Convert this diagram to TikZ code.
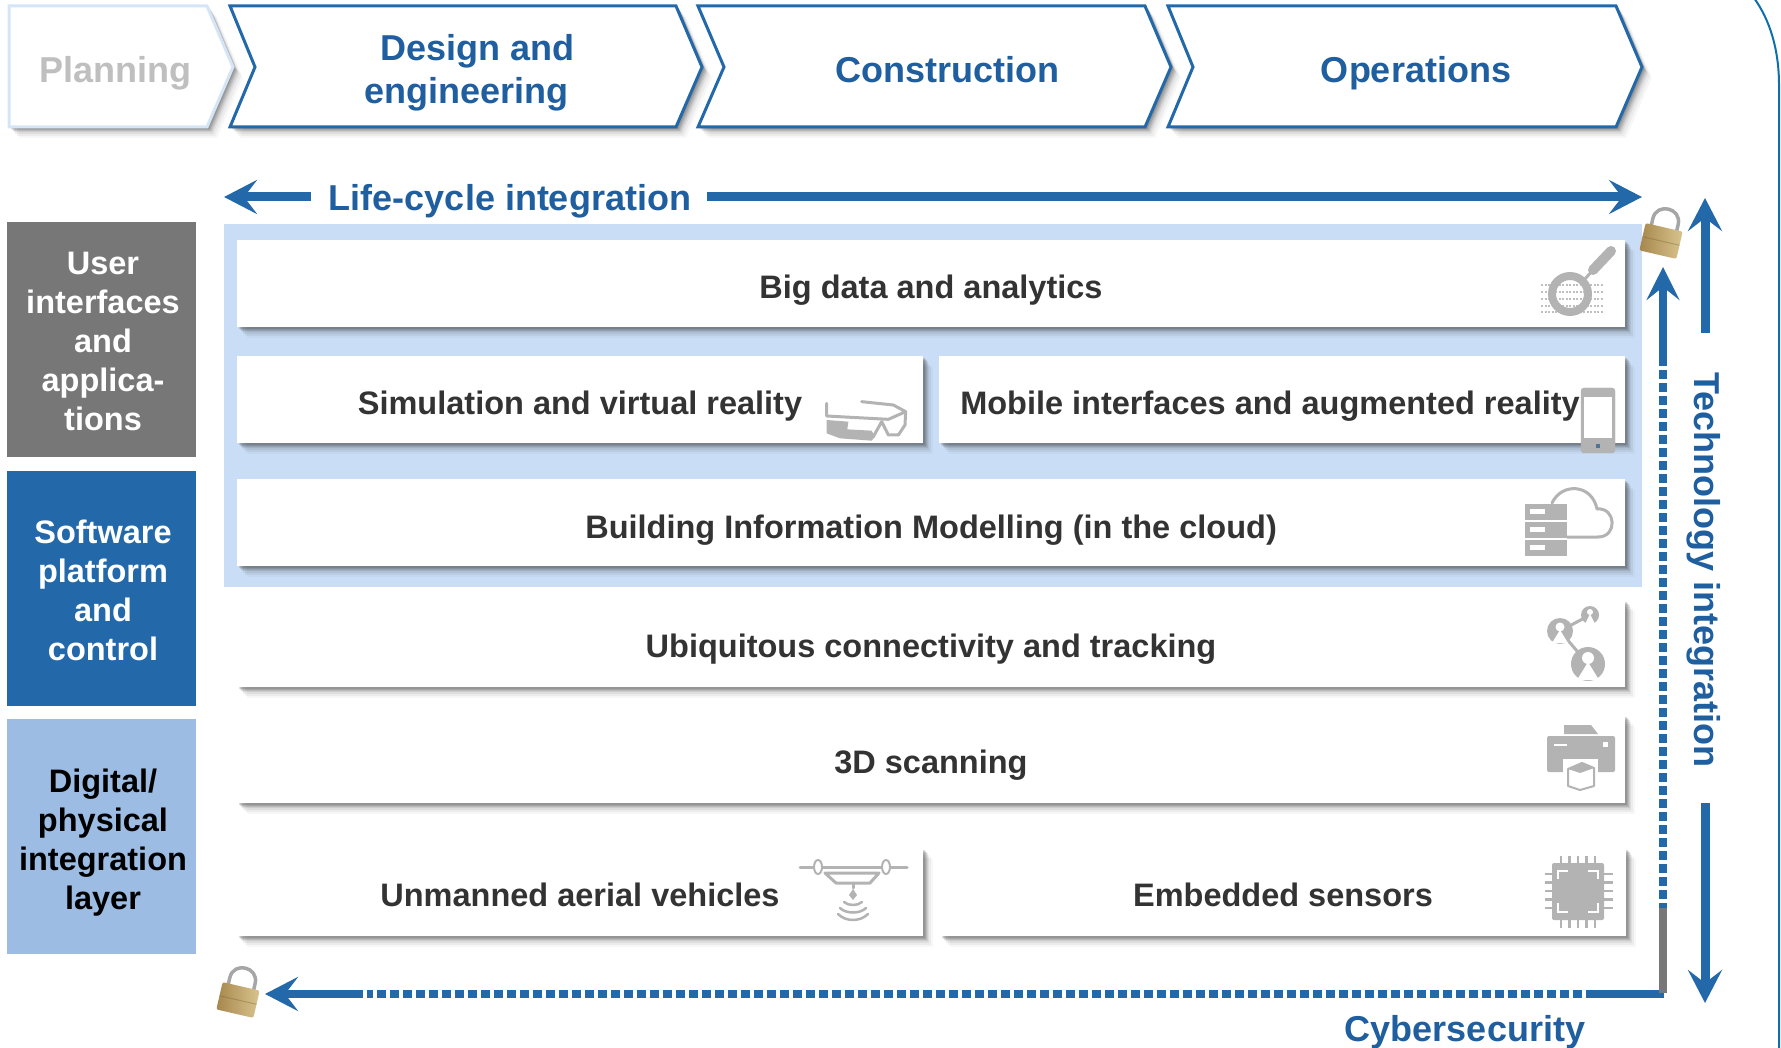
\documentclass[tikz,border=0pt]{standalone}
\usepackage{fontspec}
\setmainfont{Liberation Sans}
\usetikzlibrary{arrows.meta,shadows}

\definecolor{stageblue}{HTML}{1F5E9F}
\definecolor{arrowblue}{HTML}{2369A9}
\definecolor{panelblue}{HTML}{C9DEF6}
\definecolor{layergrey}{HTML}{777777}
\definecolor{layerlight}{HTML}{9DBCE3}
\definecolor{icongrey}{HTML}{B3B3B3}
\definecolor{railblue}{HTML}{0F6FA9}
\definecolor{lockdark}{HTML}{A6874C}
\definecolor{locklight}{HTML}{D9C48E}

\tikzstyle{softshadow}=[
  drop shadow={shadow xshift=2pt,shadow yshift=-2pt,fill=black!80,opacity=.16},
  drop shadow={shadow xshift=3pt,shadow yshift=-3pt,fill=black!80,opacity=.14},
  drop shadow={shadow xshift=4pt,shadow yshift=-4pt,fill=black!80,opacity=.12},
  drop shadow={shadow xshift=5pt,shadow yshift=-5pt,fill=black!80,opacity=.10},
  drop shadow={shadow xshift=6pt,shadow yshift=-7pt,fill=black!80,opacity=.08},
  drop shadow={shadow xshift=8pt,shadow yshift=-9pt,fill=black!80,opacity=.06},
  drop shadow={shadow xshift=10pt,shadow yshift=-11pt,fill=black!80,opacity=.04}]
\tikzstyle{stage}=[draw=arrowblue,line width=3pt,fill=white,line join=miter,softshadow]
\tikzstyle{stagetext}=[text=stageblue,align=center,font=\bfseries\fontsize{36}{43}\selectfont]
\tikzstyle{layer}=[inner sep=0pt,align=center,font=\bfseries\fontsize{32.5}{39}\selectfont]
\tikzstyle{rowbar}=[fill=white,inner sep=0pt,text=black!80,softshadow,text height=35.6pt,text depth=7pt,
  font=\bfseries\fontsize{32.5}{39}\selectfont]
\tikzstyle{bigarrow}=[draw=arrowblue,line width=9pt,
  -{Stealth[length=33pt,width=34pt,inset=13pt]}]
\tikzstyle{dotline}=[draw=arrowblue,line width=8pt,dash pattern=on 9pt off 4pt]
\tikzstyle{icon}=[draw=icongrey,line cap=round,line join=round]

\newcommand{\padlock}[2]{
\begin{scope}[shift={(#1,#2)},rotate=-13]
\draw [line width=3.5pt,black!35] (-13,-8) -- (-13,-20) .. controls (-13,-37) and (13,-37) .. (13,-20) -- (13,-8);
\shade [left color=lockdark,right color=locklight,rounded corners=2pt]
(-19,-14) rectangle (19,14);
\draw [lockdark!70!black,opacity=.35,line width=1pt] (-19,0) -- (19,0);
\end{scope}
}

\begin{document}
\begin{tikzpicture}[x=1pt,y=-1pt]

\useasboundingbox (0,0) rectangle (1781,1048);

%%% Right Rail

\draw [railblue,line width=2pt] (1754,-2) .. controls (1770,20) and (1779,50) .. (1779,85) -- (1779,1050);

%%% Stages

\draw [stage,draw=panelblue!80!white] (9,6) -- (207,6) -- (233,67) -- (207,127) -- (9,127) -- cycle;
\draw [stage] (230,6) -- (676,6) -- (702,67) -- (676,127) -- (230,127) -- (255,67) -- cycle;
\draw [stage] (698,6) -- (1145,6) -- (1171,67) -- (1145,127) -- (698,127) -- (724,67) -- cycle;
\draw [stage] (1168,6) -- (1616,6) -- (1642,67) -- (1616,127) -- (1168,127) -- (1193,67) -- cycle;

\node [stagetext,text=black!25] (planning) at (115,73.4) {Planning};
\node [stagetext] (design) at (466.5,72.5) {\hspace*{22pt}Design and\\engineering};
\node [stagetext] (construction) at (947,70) {Construction};
\node [stagetext] (operations) at (1416,73.4) {Operations};

%%% Life-cycle Arrow

\node [stagetext] (lifecycle) at (510,201.4) {Life-cycle integration};

\coordinate (lifeleftend) at (311,197);
\coordinate (lifelefttip) at (224,197);
\coordinate (liferightend) at (707,197);
\coordinate (liferighttip) at (1642,197);

\draw [bigarrow] (lifeleftend) -- (lifelefttip);
\draw [bigarrow] (liferightend) -- (liferighttip);

% Panel

\fill [panelblue] (224,224) rectangle (1642,587);

%%% Layers

\fill [layergrey] (7,222) rectangle (196,457);
\fill [arrowblue] (7,471) rectangle (196,706);
\fill [layerlight] (7,719) rectangle (196,954);

\node [layer,text=white] (userlayer) at (103,341.8)
{User\\interfaces\\and\\applica-\\tions};
\node [layer,text=white] (softwarelayer) at (103,590.8)
{Software\\platform\\and\\control};
\node [layer,text=black] (digitallayer) at (103,842.2)
{Digital/\\physical\\integration\\layer};

%%% Rows

\node [rowbar,text height=38pt,minimum width=1388pt,minimum height=87pt] (bigdata) at (931,283.5) {Big data and analytics};
\node [rowbar,text height=38pt,minimum width=686pt,minimum height=87pt] (simulation) at (580,399.5) {Simulation and virtual reality};
\node [rowbar,text height=38pt,minimum width=686pt,minimum height=87pt] (mobile) at (1282,399.5) {Mobile interfaces and augmented reality\hspace{24pt}\mbox{}};
\node [rowbar,text height=38pt,minimum width=1388pt,minimum height=87pt] (bim) at (931,522.5) {Building Information Modelling (in the cloud)};
\node [rowbar,minimum width=1388pt,minimum height=87pt] (ubiquitous) at (931,643.5) {Ubiquitous connectivity and tracking};
\node [rowbar,minimum width=1388pt,minimum height=88pt] (scanning) at (931,759) {3D scanning};
\node [rowbar,minimum width=686pt,minimum height=88pt] (uav) at (580,892) {Unmanned aerial vehicles};
\node [rowbar,minimum width=686pt,minimum height=88pt] (sensors) at (1283,892) {Embedded sensors};

%%% Icons

% Magnifier

\draw [lightgray,line width=2.5pt,dash pattern=on 2pt off 1.5pt] (1541,285) -- (1604,285);
\draw [lightgray,line width=2.5pt,dash pattern=on 2pt off 1.5pt] (1541,292) -- (1604,292);
\draw [lightgray,line width=2.5pt,dash pattern=on 2pt off 1.5pt] (1541,299) -- (1604,299);
\draw [lightgray,line width=2.5pt,dash pattern=on 2pt off 1.5pt] (1541,306) -- (1604,306);
\draw [lightgray,line width=2.5pt,dash pattern=on 2pt off 1.5pt] (1541,312) -- (1604,312);
\draw [icon,line width=8pt] (1570,294) circle (18);
\draw [icon,line width=10pt] (1593,270) -- (1611,251);
\draw [icon,line width=3pt] (1585,279) -- (1593,270);

% Glasses

\begin{scope}[shift={(760,340)},scale=1/3]
\draw [icon,line width=3pt] (305,185) -- (400,195) -- (437,215) -- (385,238) -- (200,228) -- (200,190);
\draw [icon,line width=3pt] (437,215) -- (435,255) -- (415,285);
\draw [icon,line width=3pt] (340,290) -- (365,245) -- (385,285) -- (415,285);
\fill [icongrey] (200,240) -- (265,245) -- (262,268) -- (335,272) -- (345,290) -- (335,302) -- (240,295) -- (200,280) -- cycle;
\end{scope}

% Phone

\filldraw [draw=icongrey,fill=icongrey,rounded corners=3pt] (1581,388) rectangle (1615,453);
\fill [white] (1584,397) rectangle (1612,438);
\fill [arrowblue!50!gray] (1596,444) rectangle (1600,448);

% Cloud

\fill [icongrey] (1525,504) rectangle (1567,520);
\fill [icongrey] (1525,522) rectangle (1567,538);
\fill [icongrey] (1525,540) rectangle (1567,556);
\fill [white] (1530,509) rectangle (1545,514);
\fill [white] (1530,527) rectangle (1545,532);
\fill [white] (1530,545) rectangle (1545,550);
\draw [icon,line width=3pt] (1567,537) -- (1598,537) .. controls (1618,537) and (1616,507) .. (1597,509)
.. controls (1592,484) and (1562,482) .. (1552,503);

% Connectivity

\draw [icon,line width=3pt] (1560,631) -- (1590,615);
\draw [icon,line width=3pt] (1560,631) -- (1588,664);
\fill [icongrey] (1590,615) circle (9);
\fill [icongrey] (1560,631) circle (13);
\fill [icongrey] (1588,664) circle (17);
\fill [white] (1590,612) circle (3);
\fill [white] (1590,614) -- (1585,624) -- (1595,624) -- cycle;
\fill [white] (1560,627) circle (4.5);
\fill [white] (1560,630) -- (1552,643) -- (1568,643) -- cycle;
\fill [white] (1588,658) circle (6);
\fill [white] (1588,662) -- (1577,680) -- (1599,680) -- cycle;

% Printer

\fill [icongrey] (1564,725) -- (1591,725) -- (1598,734) -- (1564,734) -- cycle;
\fill [icongrey,rounded corners=2pt] (1547,736) rectangle (1615,772);
\fill [white] (1563,759) rectangle (1598,776);
\draw [icon,line width=2pt,fill=white] (1568,769) -- (1582,763) -- (1594,768) -- (1594,786) -- (1580,790) -- (1568,786) -- cycle;
\fill [icongrey] (1568,769) -- (1582,763) -- (1594,768) -- (1580,773) -- cycle;
\draw [white,line width=1.5pt] (1554,745) -- (1567,745);
\fill [white] (1603,742) rectangle (1608,747);

% Chip

\draw [icon,line width=2.5pt,line cap=butt] (1561,856) -- (1561,928);
\draw [icon,line width=2.5pt,line cap=butt] (1569.5,856) -- (1569.5,928);
\draw [icon,line width=2.5pt,line cap=butt] (1578,856) -- (1578,928);
\draw [icon,line width=2.5pt,line cap=butt] (1586.5,856) -- (1586.5,928);
\draw [icon,line width=2.5pt,line cap=butt] (1595,856) -- (1595,928);
\draw [icon,line width=2.5pt,line cap=butt] (1545,874) -- (1613,874);
\draw [icon,line width=2.5pt,line cap=butt] (1545,882.5) -- (1613,882.5);
\draw [icon,line width=2.5pt,line cap=butt] (1545,891) -- (1613,891);
\draw [icon,line width=2.5pt,line cap=butt] (1545,899.5) -- (1613,899.5);
\draw [icon,line width=2.5pt,line cap=butt] (1545,908) -- (1613,908);
\fill [icongrey,rounded corners=2pt] (1552,863) rectangle (1604,920);
\draw [white,line width=1.5pt] (1558,879) -- (1558,871) -- (1568,871);
\draw [white,line width=1.5pt] (1588,871) -- (1598,871) -- (1598,879);
\draw [white,line width=1.5pt] (1558,903) -- (1558,912) -- (1568,912);
\draw [white,line width=1.5pt] (1588,912) -- (1598,912) -- (1598,903);

% Drone

\draw [icon,line width=3pt] (800,867) -- (907,867);
\draw [icon,line width=2pt,fill=white] (818,867) ellipse (4 and 7);
\draw [icon,line width=2pt,fill=white] (886,867) ellipse (4 and 7);
\draw [icon,line width=3pt,fill=white] (825,873) -- (879,873) -- (870,883) -- (836,883) -- cycle;
\draw [icon,line width=3pt] (853,884) -- (853,888);
\fill [icongrey] (853,889) -- (857,895) -- (853,900) -- (849,895) -- cycle;
\draw [icon,line width=2.5pt] (844,902) .. controls (848,906) and (858,906) .. (862,902);
\draw [icon,line width=2.5pt] (840,908) .. controls (846,914) and (860,914) .. (866,908);
\draw [icon,line width=2.5pt] (838,914) .. controls (846,922) and (860,922) .. (868,914);

%%% Technology Integration

\node [stagetext,rotate=-90] (technology) at (1703.5,570) {Technology integration};

\coordinate (techtopend) at (1705,333);
\coordinate (techtoptip) at (1705,198);
\coordinate (techlowend) at (1705,803);
\coordinate (techlowtip) at (1705,1003);

\draw [bigarrow] (techtopend) -- (techtoptip);
\draw [bigarrow] (techlowend) -- (techlowtip);

%%% Cybersecurity

\node [stagetext] (cyber) at (1465,1032.4) {Cybersecurity};

\coordinate (corner) at (1664,994);
\coordinate (cyberrightend) at (1586,994);
\coordinate (cyberleftdots) at (367,994);
\coordinate (cyberleftend) at (363,994);
\coordinate (cyberlefttip) at (265,994);
\coordinate (uptip) at (1663,267);
\coordinate (upend) at (1663,366);
\coordinate (updots) at (1663,370);
\coordinate (greytop) at (1663,908);
\coordinate (greybottom) at (1663,993);

\draw [dotline,dash phase=9pt] (cyberrightend) -- (cyberleftdots);
\draw [arrowblue,line width=8pt] (corner) -- (cyberrightend);
\draw [draw=arrowblue,line width=8pt,-{Stealth[length=33pt,width=34pt,inset=13pt]}] (cyberleftend) -- (cyberlefttip);

\draw [dotline] (updots) -- (greytop);
\draw [draw=arrowblue,line width=8pt,-{Stealth[length=33pt,width=33pt,inset=13pt]}] (upend) -- (uptip);
\draw [layergrey,line width=8pt] (greytop) -- (greybottom);

%%% Padlocks

\padlock{1661}{241}
\padlock{238}{1000}

\end{tikzpicture}
\end{document}
